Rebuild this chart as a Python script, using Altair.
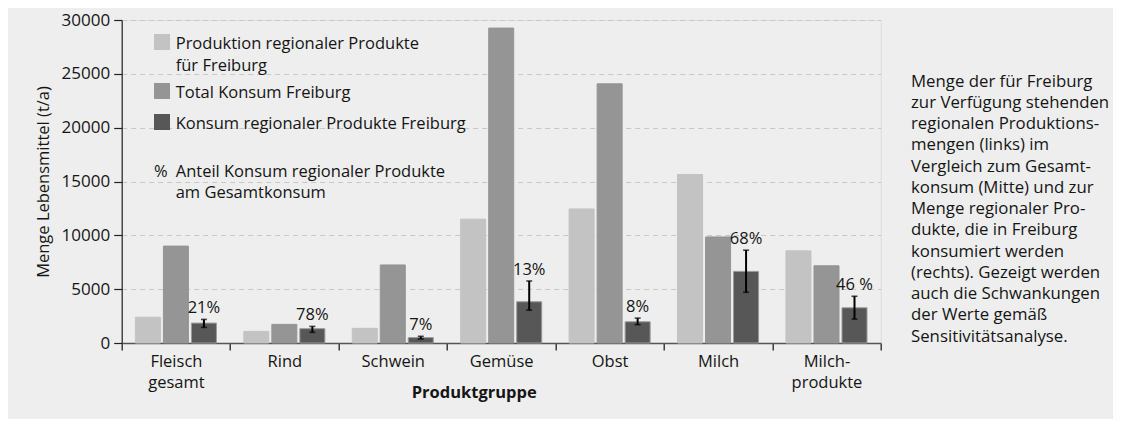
import altair as alt
import pandas as pd

FONT = "Open Sans"
TXT = "#151515"

groups = ["Fleisch\ngesamt", "Rind", "Schwein", "Gemüse", "Obst", "Milch", "Milch-\nprodukte"]
series = ["Produktion regionaler Produkte für Freiburg", "Total Konsum Freiburg",
          "Konsum regionaler Produkte Freiburg"]
colors = ["#c3c3c3", "#959595", "#575757"]

produktion = [2400, 1080, 1360, 11500, 12450, 15650, 8560]
total_konsum = [9000, 1730, 7250, 29250, 24070, 9850, 7170]
regional_konsum = [1850, 1330, 500, 3830, 1970, 6650, 3270]
err_low = [1450, 990, 370, 3050, 1700, 4710, 2220]
err_high = [2190, 1540, 620, 5760, 2310, 8620, 4340]
anteil = ["21%", "78%", "7%", "13%", "8%", "68%", "46 %"]
y_ticks = [0, 5000, 10000, 15000, 20000, 25000, 30000]

rows = []
for s, vals in zip(series, [produktion, total_konsum, regional_konsum]):
    for g, v in zip(groups, vals):
        rows.append({"group": g, "series": s, "value": v})
bars_df = pd.DataFrame(rows)

err_df = pd.DataFrame({"group": groups, "series": series[2], "lo": err_low,
                       "hi": err_high, "pct": anteil})

x_axis = alt.Axis(tickBand="extent", tickSize=7, tickColor="#222", tickWidth=1.3,
                  domainColor="#555", domainWidth=1.6, labelAngle=0,
                  labelExpr="split(datum.label, '\\n')", labelFontSize=16.5,
                  labelPadding=3, labelLineHeight=21, labelColor=TXT,
                  title="Produktgruppe", titleFontWeight="bold", titleFontSize=16.5,
                  titleColor=TXT, titleX=352, titleY=54, titleAlign="center",
                  titleBaseline="alphabetic", grid=False)
y_axis = alt.Axis(values=y_ticks, format="d", tickSize=8, tickColor="#222", tickWidth=1.2,
                  domainColor="#222", domainWidth=1.2, grid=True, gridDash=[5, 4],
                  gridColor="#c8c8c8", gridWidth=1, labelFontSize=17, labelPadding=4,
                  labelColor=TXT, title="Menge Lebensmittel (t/a)", titleFontSize=16.5,
                  titleFontWeight="normal", titleColor=TXT, titleX=-78, titleY=161.5,
                  titleAngle=-90, titleAlign="center", titleBaseline="middle")

x_enc = alt.X("group:N", sort=groups, scale=alt.Scale(domain=groups, paddingInner=0, paddingOuter=0), axis=x_axis)
xo_enc = alt.XOffset("series:N", sort=series,
                     scale=alt.Scale(domain=series, paddingInner=0.107, paddingOuter=0.489))
y_scale = alt.Scale(domain=[0, 30000], nice=False)

bars = alt.Chart(bars_df).mark_bar(strokeWidth=1).encode(
    x=x_enc,
    xOffset=xo_enc,
    y=alt.Y("value:Q", scale=y_scale, axis=y_axis),
    color=alt.Color("series:N", scale=alt.Scale(domain=series, range=colors), legend=None),
    stroke=alt.Stroke("series:N", scale=alt.Scale(domain=series, range=["#c3c3c3", "#959595", "#9a9a9a"]), legend=None),
)

err_rule = alt.Chart(err_df).mark_rule(color="black", strokeWidth=2).encode(
    x=x_enc, xOffset=xo_enc,
    y=alt.Y("lo:Q", scale=y_scale, axis=y_axis), y2="hi:Q",
)
cap_hi = alt.Chart(err_df).mark_tick(color="black", size=6, thickness=1.6, orient="horizontal").encode(
    x=x_enc, xOffset=xo_enc, y=alt.Y("hi:Q", scale=y_scale, axis=y_axis))
cap_lo = alt.Chart(err_df).mark_tick(color="black", size=6, thickness=1.6, orient="horizontal").encode(
    x=x_enc, xOffset=xo_enc, y=alt.Y("lo:Q", scale=y_scale, axis=y_axis))

pct = alt.Chart(err_df).mark_text(dy=-6, baseline="alphabetic", font=FONT, fontSize=16.5, color=TXT).encode(
    x=x_enc, xOffset=xo_enc, y=alt.Y("hi:Q", scale=y_scale, axis=y_axis), text="pct:N")

one = pd.DataFrame({"k": [0]})


def square(color, x, y):
    return alt.Chart(one).mark_square(size=256, color=color, opacity=1).encode(
        x=alt.value(x), y=alt.value(y))


def txt(lines, x, y, size=16.5, lh=21):
    return alt.Chart(one).mark_text(text=lines, align="left", baseline="alphabetic",
                                    font=FONT, fontSize=size, lineHeight=lh, color=TXT).encode(
        x=alt.value(x), y=alt.value(y))


legend_layers = [
    square(colors[0], 40.3, 22), square(colors[1], 40.3, 71), square(colors[2], 40.3, 102),
    txt(["Produktion regionaler Produkte", "für Freiburg"], 54, 29, lh=22),
    txt(["Total Konsum Freiburg"], 54, 78),
    txt(["Konsum regionaler Produkte Freiburg"], 54, 109),
    txt(["%"], 32.3, 157),
    txt(["Anteil Konsum regionaler Produkte", "am Gesamtkonsum"], 54, 157, lh=21),
]

note_lines = ["Menge der für Freiburg", "zur Verfügung stehenden", "regionalen Produktions-",
              "mengen (links) im", "Vergleich zum Gesamt-", "konsum (Mitte) und zur",
              "Menge regionaler Pro-", "dukte, die in Freiburg", "konsumiert werden",
              "(rechts). Gezeigt werden", "auch die Schwankungen", "der Werte gemäß",
              "Sensitivitätsanalyse."]
note = txt(note_lines, 789.3, 66.7, size=16.8, lh=21.25)

chart = alt.layer(bars, err_rule, cap_hi, cap_lo, pct, *legend_layers, note).properties(
    width=759, height=323,
    padding={"left": 113.7, "top": 12, "right": 232.3, "bottom": 76},
    autosize=alt.AutoSizeParams(type="none"),
    background="#eeeeee",
).configure_view(stroke=None).configure(font=FONT)

chart.save("out.html", embed_options={"renderer": "svg", "actions": False})
